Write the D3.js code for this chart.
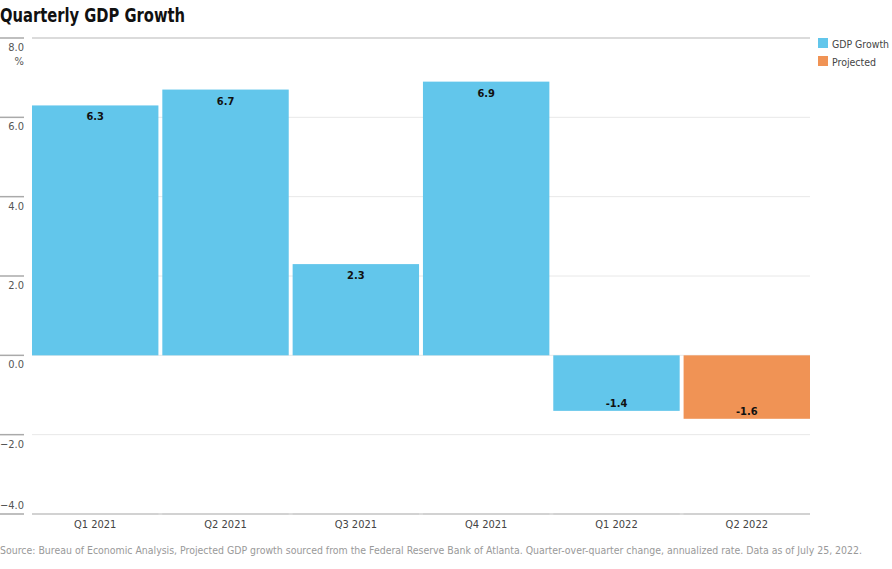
<!DOCTYPE html>
<html>
<head>
<meta charset="utf-8">
<script src="https://cdn.jsdelivr.net/npm/d3@7"></script>
<style>
  body { margin: 0; background: #fff; }
  svg { display: block; font-family: "DejaVu Sans Condensed", "Liberation Sans Narrow", sans-serif; font-stretch: condensed; }
</style>
</head>
<body>
<svg id="chart" width="892" height="569"></svg>
<script>
const quarters = ["Q1 2021", "Q2 2021", "Q3 2021", "Q4 2021", "Q1 2022", "Q2 2022"];
const growth = [6.3, 6.7, 2.3, 6.9, -1.4, -1.6];
const projected = [false, false, false, false, false, true];
const yTicks = [8, 6, 4, 2, 0, -2, -4];
const legendItems = ["GDP Growth", "Projected"];
const colors = ["#62c6eb", "#f09355"];

const svg = d3.select("#chart");
const margin = {top: 38, right: 82, bottom: 55, left: 32};
const width = 892 - margin.left - margin.right;
const height = 569 - margin.top - margin.bottom;

svg.append("text")
    .attr("x", 0).attr("y", 22)
    .attr("font-size", 20).attr("font-weight", "bold")
    .attr("fill", "#111")
    .attr("textLength", 185).attr("lengthAdjust", "spacingAndGlyphs")
    .text("Quarterly GDP Growth");

const g = svg.append("g").attr("transform", "translate(" + margin.left + "," + margin.top + ")");

const x = d3.scaleBand().domain(quarters).range([0, width]).paddingInner(0.03).paddingOuter(0.0);
const y = d3.scaleLinear().domain([-4, 8]).range([height, 0]);

// grid lines
g.selectAll(".grid")
    .data(yTicks)
    .enter().append("line")
    .attr("x1", 0).attr("x2", width)
    .attr("y1", d => y(d)).attr("y2", d => y(d))
    .attr("stroke", d => (d === 8 || d === -4) ? "#cfcfcf" : "#e8e8e8")
    .attr("stroke-width", d => (d === 8 || d === -4) ? 1.5 : 1);

// left tick marks and labels
const fmt = d3.format(".1f");
const ticks = g.selectAll(".tick").data(yTicks).enter().append("g")
    .attr("transform", d => "translate(0," + y(d) + ")");
ticks.append("line")
    .attr("x1", -margin.left).attr("x2", -8)
    .attr("stroke", "#aaa").attr("stroke-width", 1.5);
ticks.append("text")
    .attr("x", -8).attr("y", d => d === -4 ? -5 : 13)
    .attr("text-anchor", "end")
    .attr("font-size", 11).attr("fill", "#555")
    .text(d => fmt(d));
g.append("text")
    .attr("x", -8).attr("y", y(8) + 27)
    .attr("text-anchor", "end")
    .attr("font-size", 11).attr("fill", "#555")
    .text("%");

// bars
g.selectAll(".bar")
    .data(growth)
    .enter().append("rect")
    .attr("x", (d, i) => x(quarters[i]))
    .attr("width", x.bandwidth())
    .attr("y", d => y(Math.max(0, d)))
    .attr("height", d => Math.abs(y(d) - y(0)))
    .attr("fill", (d, i) => projected[i] ? colors[1] : colors[0]);

// value labels
g.selectAll(".val")
    .data(growth)
    .enter().append("text")
    .attr("x", (d, i) => x(quarters[i]) + x.bandwidth() / 2)
    .attr("y", d => d >= 0 ? y(d) + 15 : y(d) - 4)
    .attr("text-anchor", "middle")
    .attr("font-size", 11).attr("font-weight", "bold")
    .attr("fill", "#111")
    .text(d => fmt(d).replace("\u2212", "-"));

// bottom axis
const xAxis = g.append("g")
    .attr("transform", "translate(0," + height + ")")
    .call(d3.axisBottom(x).tickSize(0).tickPadding(6));
xAxis.select(".domain").remove();
xAxis.selectAll("text").attr("font-size", 11).attr("fill", "#444")
    .attr("font-family", "DejaVu Sans Condensed, Liberation Sans Narrow, sans-serif");
// band separators on the axis line
xAxis.selectAll(".sep").data(quarters).enter().append("line")
    .attr("x1", d => x(d)).attr("x2", d => x(d) + x.bandwidth())
    .attr("stroke", "#cfcfcf").attr("stroke-width", 1.5);

// legend
const legendWidths = [57, 44];
const legend = svg.append("g").attr("transform", "translate(818,38)");
legendItems.forEach((name, i) => {
    const row = legend.append("g").attr("transform", "translate(0," + (i * 18) + ")");
    row.append("rect").attr("width", 10).attr("height", 10).attr("fill", colors[i]);
    row.append("text").attr("x", 14).attr("y", 9.5)
        .attr("font-size", 11).attr("fill", "#444")
        .attr("textLength", legendWidths[i]).attr("lengthAdjust", "spacingAndGlyphs")
        .text(name);
});

// source
svg.append("text")
    .attr("x", 0).attr("y", 554)
    .attr("font-size", 10).attr("fill", "#999")
    .attr("textLength", 862).attr("lengthAdjust", "spacingAndGlyphs")
    .text("Source: Bureau of Economic Analysis, Projected GDP growth sourced from the Federal Reserve Bank of Atlanta. Quarter-over-quarter change, annualized rate. Data as of July 25, 2022.");
</script>
</body>
</html>
